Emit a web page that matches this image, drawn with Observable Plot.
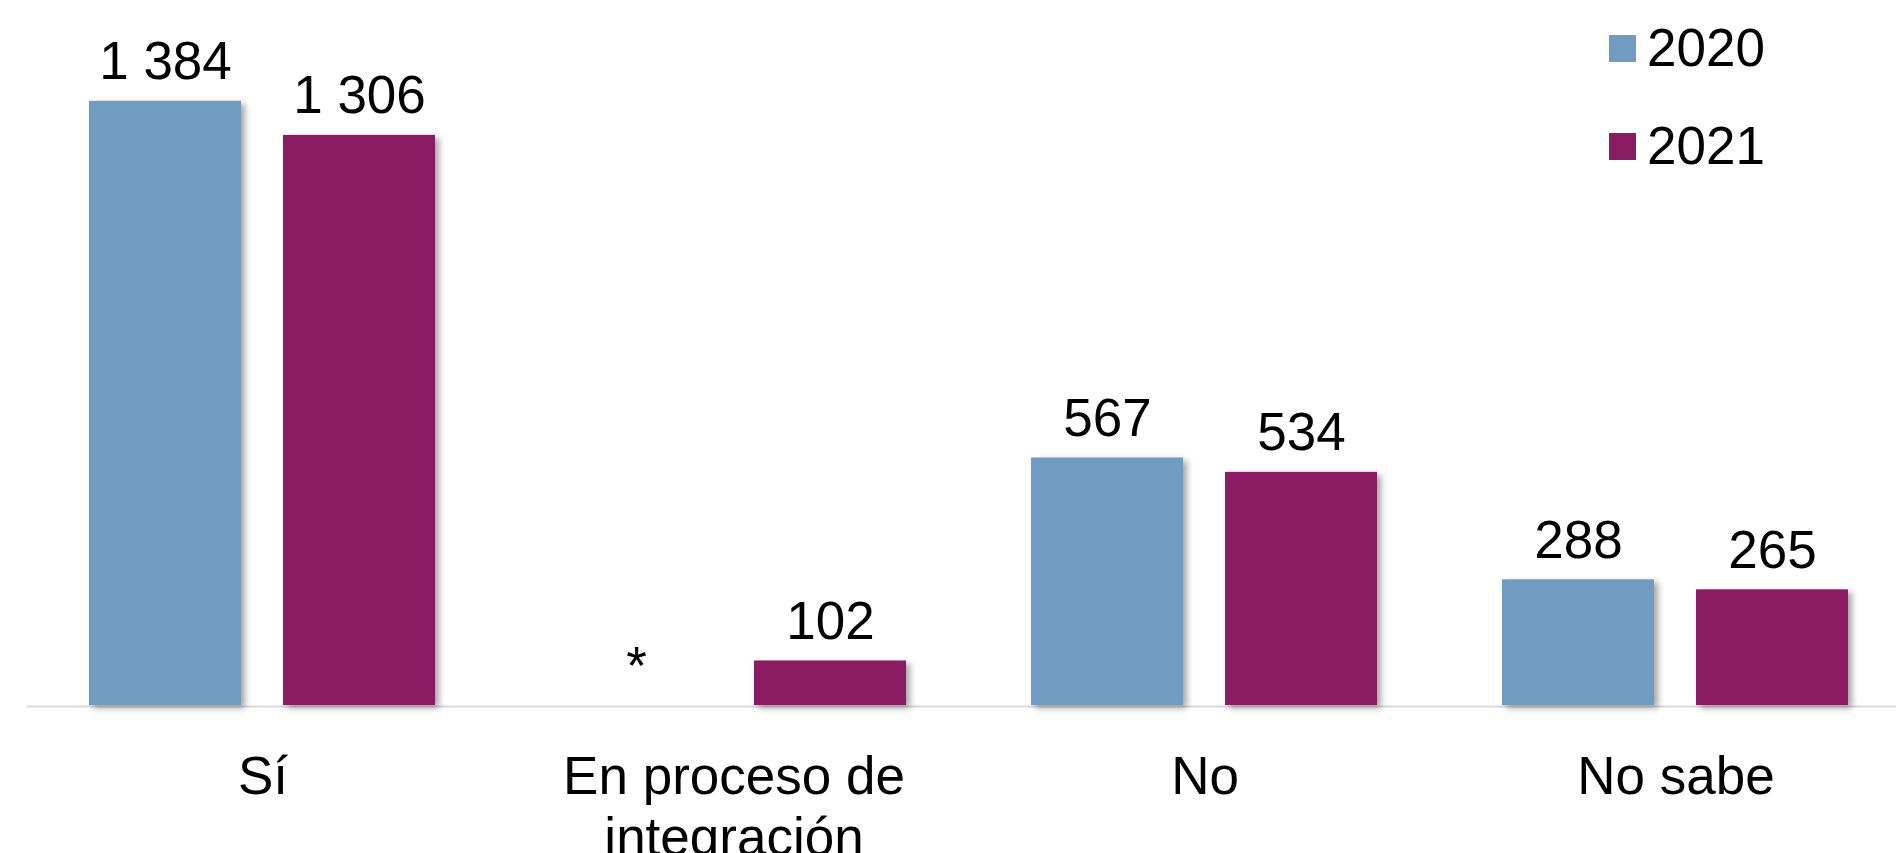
<!DOCTYPE html>
<html>
<head>
<meta charset="utf-8">
<script src="https://cdn.jsdelivr.net/npm/d3@7"></script>
<script src="https://cdn.jsdelivr.net/npm/@observablehq/plot@0.6"></script>
<style>
  body { margin: 0; background: #fff; }
  #wrap { position: relative; width: 1896px; height: 853px; overflow: hidden; font-family: "Liberation Sans", Arial, sans-serif; }
  #wrap svg g[aria-label="bar"] rect { filter: drop-shadow(4px 3px 3px rgba(0,0,0,0.35)); }
  .leg { position: absolute; left: 1609px; height: 60px; }
  .leg .sw { position: absolute; left: 0; width: 27px; height: 27px; }
  .leg .tx { position: absolute; left: 38px; font-size: 53px; line-height: 53px; color: #000; white-space: nowrap; }
</style>
</head>
<body>
<div id="wrap"></div>
<script>
const categories = ["Sí", "En proceso de integración", "No", "No sabe"];
const categoryLabels = ["Sí", "En proceso de\nintegración", "No", "No sabe"];
const years = ["2020", "2021"];
const values2020 = [1384, null, 567, 288];
const values2021 = [1306, 102, 534, 265];
const colors = ["#709cc2", "#8b1b62"];

const fmt = v => v == null ? "*" : d3.format(",")(v).replace(/,/g, " ");

const data = [];
categories.forEach((c, i) => {
  data.push({cat: c, year: years[0], value: values2020[i]});
  data.push({cat: c, year: years[1], value: values2021[i]});
});

const chart = Plot.plot({
  width: 1896,
  height: 853,
  marginTop: 0,
  marginBottom: 148,
  marginLeft: 25,
  marginRight: 0,
  style: {fontFamily: "'Liberation Sans', Arial, sans-serif", background: "#fff"},
  fx: {domain: categories, range: [25, 1912], paddingInner: 0, paddingOuter: 0, label: null},
  x: {domain: years, paddingInner: 0.2154, paddingOuter: 0.317, axis: null},
  y: {domain: [0, 1615], axis: null},
  color: {domain: years, range: colors},
  marks: [
    Plot.ruleY([0], {stroke: "#d9d9d9", strokeWidth: 2, dy: 1}),
    Plot.barY(data.filter(d => d.value != null), {fx: "cat", x: "year", y: "value", fill: "year"}),
    Plot.text(data, {fx: "cat", x: "year", y: d => d.value ?? 0, text: d => fmt(d.value), lineAnchor: "bottom", dy: -22, fontSize: 53, fill: "#000"}),
    Plot.axisFx({anchor: "bottom", tickSize: 0, tickPadding: 45, fontSize: 53, lineHeight: 1.15, fill: "#000", label: null,
      tickFormat: d => categoryLabels[categories.indexOf(d)]})
  ]
});

const wrap = document.getElementById("wrap");
wrap.appendChild(chart);

years.forEach((y, i) => {
  const row = document.createElement("div");
  row.className = "leg";
  row.style.top = (i * 98) + "px";
  row.innerHTML = `<div class="sw" style="top:35px;background:${colors[i]}"></div><div class="tx" style="top:21px">${y}</div>`;
  wrap.appendChild(row);
});
</script>
</body>
</html>
